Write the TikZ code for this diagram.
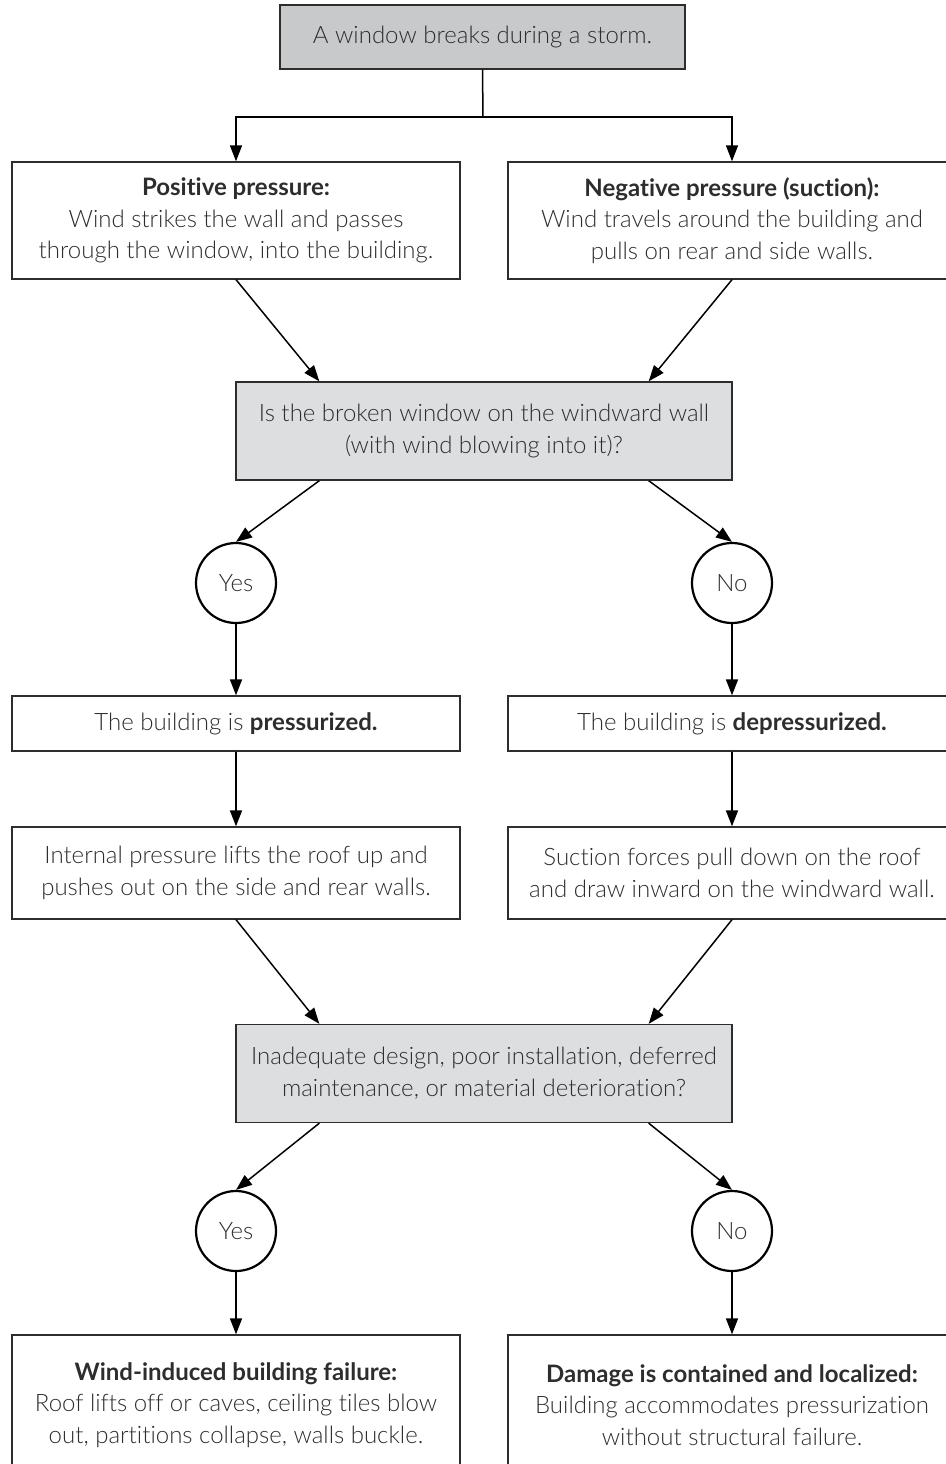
\documentclass[tikz,border=0pt]{standalone}
\usepackage{fontspec}
\setmainfont{Lato}[UprightFont={* Light}, BoldFont={* Bold}, Ligatures=NoCommon]
\usetikzlibrary{positioning, calc, arrows.meta}
\definecolor{stormgray}{RGB}{200,201,203}
\definecolor{questiongray}{RGB}{221,222,224}
\definecolor{inkgray}{RGB}{45,45,45}
\newcommand{\chartfont}{\fontsize{24}{31.5}\selectfont}
\tikzset{
        chart-box/.style={
            rectangle, draw=inkgray, line width=1.3pt, inner sep=0pt,
            align=center, text=inkgray, font=\chartfont
        },
        start-box/.style={chart-box, fill=stormgray, minimum width=405pt, minimum height=64pt},
        info-box/.style={chart-box, minimum width=448pt, minimum height=117pt},
        question-box/.style={chart-box, fill=questiongray, minimum width=496pt, minimum height=98pt},
        state-box/.style={chart-box, minimum width=448pt, minimum height=55pt},
        effect-box/.style={chart-box, minimum width=448pt, minimum height=92pt},
        outcome-box/.style={chart-box, minimum width=448pt, minimum height=140pt},
        answer/.style={
            circle, draw=black, line width=2.2pt, minimum size=80pt, inner sep=0pt,
            text=inkgray, font=\chartfont
        },
        connector/.style={line width=1.5pt, -{Triangle[length=16pt, width=12pt]}},
}

\begin{document}
\begin{tikzpicture}[x=1pt, y=-1pt]

        \useasboundingbox (0,0) rectangle (945,1464);

        % DRAW NODES (at fixed coordinates, left and right columns mirrored)
        \node[start-box]    (START) at (482.5,37)   {A window breaks during a storm.};
        \coordinate         (SPLIT) at (483,117);
        \node[info-box]     (POS)   at (236,220.5)  {\textbf{Positive pressure:}\\Wind strikes the wall and passes\\through the window, into the building.};
        \node[info-box]     (NEG)   at (732,220.5)  {\textbf{Negative pressure (suction):}\\Wind travels around the building and\\pulls on rear and side walls.};
        \node[question-box] (Q1)    at (484,431)    {Is the broken window on the windward wall\\(with wind blowing into it)?};
        \node[answer]       (YES1)  at (236,583)    {Yes};
        \node[answer]       (NO1)   at (732,583)    {No};
        \node[state-box]    (PRES)  at (236,723.5)  {The building is \textbf{pressurized.}};
        \node[state-box]    (DEPR)  at (732,723.5)  {The building is \textbf{depressurized.}};
        \node[effect-box]   (LIFT)  at (236,873)    {Internal pressure lifts the roof up and\\pushes out on the side and rear walls.};
        \node[effect-box]   (SUCK)  at (732,873)    {Suction forces pull down on the roof\\and draw inward on the windward wall.};
        \node[question-box] (Q2)    at (484,1073.5) {Inadequate design, poor installation, deferred\\maintenance, or material deterioration?};
        \node[answer]       (YES2)  at (236,1231)   {Yes};
        \node[answer]       (NO2)   at (732,1231)   {No};
        \node[outcome-box]  (FAIL)  at (236,1405)   {\textbf{Wind-induced building failure:}\\Roof lifts off or caves, ceiling tiles blow\\out, partitions collapse, walls buckle.};
        \node[outcome-box]  (HOLD)  at (732,1405)   {\textbf{Damage is contained and localized:}\\Building accommodates pressurization\\without structural failure.};

        % CONNECT START TO BOTH PRESSURE CASES
        \draw [line width=1.5pt] (START.south) -- (SPLIT);
        \draw [connector] (SPLIT) -| (POS.north);
        \draw [connector] (SPLIT) -| (NEG.north);

        % CONNECT PRESSURE CASES TO FIRST QUESTION
        \draw [connector] (POS.south) -- ($(Q1.north west)+(84,0)$);
        \draw [connector] (NEG.south) -- ($(Q1.north east)+(-84,0)$);
        \draw [connector] ($(Q1.south west)+(84,0)$) -- (YES1.north);
        \draw [connector] ($(Q1.south east)+(-84,0)$) -- (NO1.north);

        % DOWN THE TWO COLUMNS
        \draw [connector] (YES1) -- (PRES);
        \draw [connector] (NO1)  -- (DEPR);
        \draw [connector] (PRES) -- (LIFT);
        \draw [connector] (DEPR) -- (SUCK);

        % CONNECT EFFECTS TO SECOND QUESTION
        \draw [connector] (LIFT.south) -- ($(Q2.north west)+(84,0)$);
        \draw [connector] (SUCK.south) -- ($(Q2.north east)+(-84,0)$);
        \draw [connector] ($(Q2.south west)+(84,0)$) -- (YES2.north);
        \draw [connector] ($(Q2.south east)+(-84,0)$) -- (NO2.north);

        % CONNECT ANSWERS TO OUTCOMES
        \draw [connector] (YES2) -- (FAIL);
        \draw [connector] (NO2)  -- (HOLD);

\end{tikzpicture}
\end{document}
